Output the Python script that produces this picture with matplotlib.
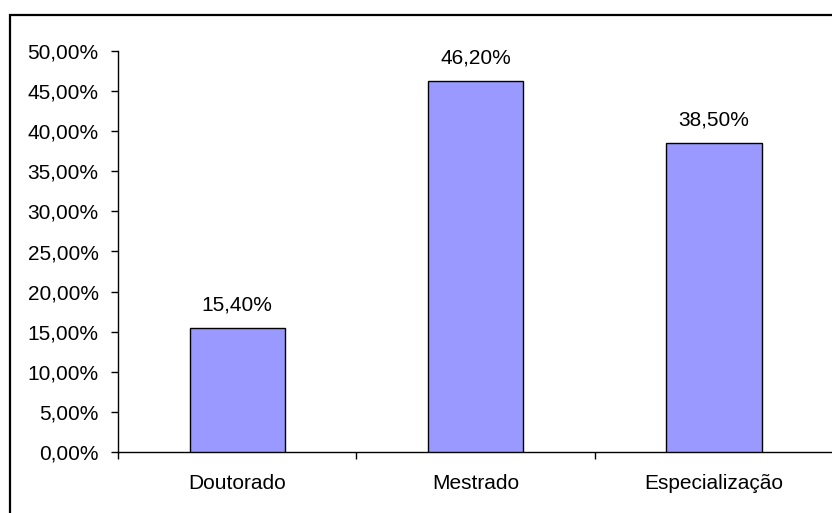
import matplotlib
matplotlib.use("Agg")
import matplotlib.pyplot as plt
from matplotlib.patches import Rectangle
from matplotlib.ticker import FixedLocator, FuncFormatter

categories = ["Doutorado", "Mestrado", "Especialização"]
values = [15.40, 46.20, 38.50]
y_ticks = [0, 5, 10, 15, 20, 25, 30, 35, 40, 45, 50]

plt.rcParams["font.family"] = ["Liberation Sans", "DejaVu Sans"]

W, H = 832, 513
fig = plt.figure(figsize=(W / 100, H / 100), dpi=100)
fig.patch.set_facecolor("white")

ax = fig.add_axes([118 / W, 61 / H, (833 - 118) / W, (452 - 51) / H])

x = list(range(len(categories)))
bars = ax.bar(x, values, width=0.4, color="#9999FF", edgecolor="black",
              linewidth=1.0, zorder=3)

def pct(v):
    return f"{v:.2f}%".replace(".", ",")

for rect, v in zip(bars, values):
    ax.annotate(pct(v), (rect.get_x() + rect.get_width() / 2, v),
                xytext=(0, 10), textcoords="offset points",
                ha="center", va="bottom", fontsize=15, color="black")

ax.set_xlim(-0.5, len(categories) - 0.5)
ax.set_ylim(0, 50)
ax.set_yticks(y_ticks)
ax.yaxis.set_major_formatter(FuncFormatter(lambda v, p: pct(v)))

ax.set_xticks(x)
ax.set_xticklabels(categories)
ax.xaxis.set_minor_locator(FixedLocator([i - 0.5 for i in range(len(categories) + 1)]))

ax.tick_params(axis="y", which="major", direction="out", length=5, width=1,
               labelsize=15, pad=9, colors="black")
ax.tick_params(axis="x", which="major", length=0, labelsize=15, pad=16)
ax.tick_params(axis="x", which="minor", direction="out", length=5, width=1)

for s in ["top", "right"]:
    ax.spines[s].set_visible(False)
for s in ["left", "bottom"]:
    ax.spines[s].set_linewidth(1.0)
    ax.spines[s].set_color("black")

# outer chart frame
frame = Rectangle((9.5 / W, -0.2), 1.0, (H - 15) / H + 0.2,
                  transform=fig.transFigure, fill=False,
                  edgecolor="black", linewidth=1.6, zorder=10)
fig.patches.append(frame)

fig.savefig("out.png", dpi=100, facecolor="white")
